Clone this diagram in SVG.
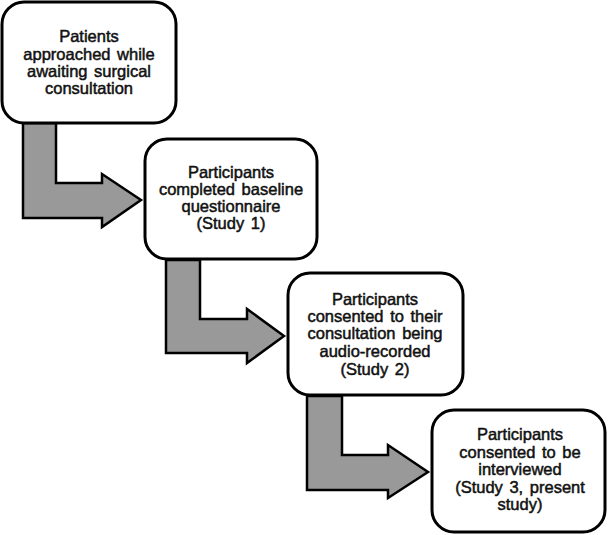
<svg xmlns="http://www.w3.org/2000/svg" width="608" height="535" viewBox="0 0 608 535">
<style>
.box{fill:#fff;stroke:#000;stroke-width:3}
.arr{fill:#999;stroke:#000;stroke-width:2.5;stroke-linejoin:miter}
text{font-family:"Liberation Sans",Arial,sans-serif;font-size:16.5px;fill:#111;stroke:#111;stroke-width:0.5;text-anchor:middle;word-spacing:2px}
</style>
<rect width="608" height="535" fill="#fff"/>
<g id="connectors">
<path class="arr" d="M23,123 L56,123 L56,183 L102,183 L102,174 L141,200 L102,227 L102,218 L23,218 Z"/>
<path class="arr" d="M166,260 L200,260 L200,319 L247,319 L247,309 L284,336 L247,363 L247,353 L166,353 Z"/>
<path class="arr" d="M307,396 L342,396 L342,455 L388,455 L388,445 L428,472 L388,498 L388,490 L307,490 Z"/>
</g>
<g id="node1">
<rect class="box" x="2" y="2" width="174" height="121" rx="22"/>
<text x="89" y="42">Patients</text>
<text x="89" y="60">approached while</text>
<text x="89" y="77">awaiting surgical</text>
<text x="89" y="94">consultation</text>
</g>
<g id="node2">
<rect class="box" x="145" y="139" width="172" height="120" rx="22"/>
<text x="231" y="178">Participants</text>
<text x="231" y="195">completed baseline</text>
<text x="231" y="212">questionnaire</text>
<text x="231" y="229">(Study 1)</text>
</g>
<g id="node3">
<rect class="box" x="288" y="273" width="175" height="122" rx="22"/>
<text x="375" y="305">Participants</text>
<text x="375" y="322">consented to their</text>
<text x="375" y="339">consultation being</text>
<text x="375" y="357">audio-recorded</text>
<text x="375" y="375">(Study 2)</text>
</g>
<g id="node4">
<rect class="box" x="432" y="410" width="173" height="122" rx="22"/>
<text x="520" y="440">Participants</text>
<text x="520" y="458">consented to be</text>
<text x="520" y="475">interviewed</text>
<text x="520" y="493">(Study 3, present</text>
<text x="520" y="510">study)</text>
</g>
</svg>
